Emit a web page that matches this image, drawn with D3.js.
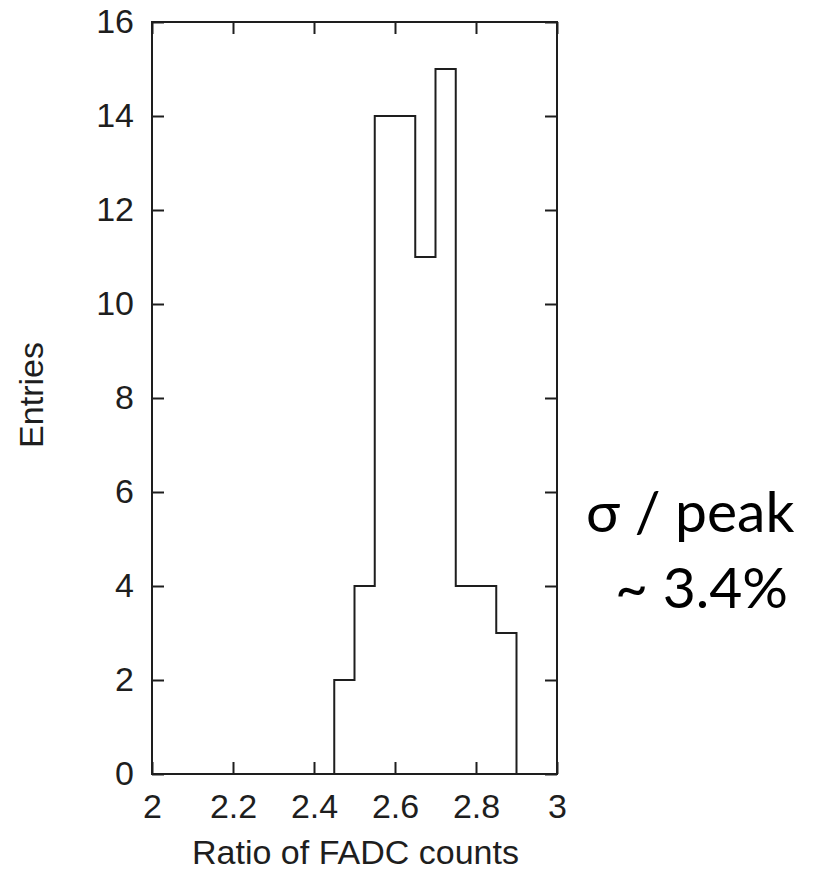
<!DOCTYPE html>
<html>
<head>
<meta charset="utf-8">
<script src="https://cdn.jsdelivr.net/npm/d3@7"></script>
<style>
  html, body { margin: 0; padding: 0; background: #fff; }
  svg { display: block; }
</style>
</head>
<body>
<script>
// Histogram of FADC count ratios, 0.05-wide bins from 2.0 to 3.0
const binEdges = [2.00, 2.05, 2.10, 2.15, 2.20, 2.25, 2.30, 2.35, 2.40, 2.45,
                  2.50, 2.55, 2.60, 2.65, 2.70, 2.75, 2.80, 2.85, 2.90, 2.95, 3.00];
const binCounts = [0, 0, 0, 0, 0, 0, 0, 0, 0, 2,
                   4, 14, 14, 11, 15, 4, 4, 3, 0, 0];
const xTicks = [2, 2.2, 2.4, 2.6, 2.8, 3];
const yTicks = [0, 2, 4, 6, 8, 10, 12, 14, 16];
const xTitle = "Ratio of FADC counts";
const yTitle = "Entries";
const noteLines = ["σ / peak", "~ 3.4%"];

const W = 819, H = 872;
const m = { left: 152, right: 557, top: 22, bottom: 774 };
const ink = "#1e1e1e";

const svg = d3.select("body").append("svg")
  .attr("width", W).attr("height", H);

const x = d3.scaleLinear().domain([2, 3]).range([m.left, m.right]);
const y = d3.scaleLinear().domain([0, 16]).range([m.bottom, m.top]);

const tick = 12;
const font = "'Liberation Sans', Arial, sans-serif";
const fontSize = "34px";

function styleAxis(g, showLabels) {
  g.select(".domain").remove();
  g.selectAll(".tick line").attr("stroke", ink).attr("stroke-width", 2);
  g.selectAll(".tick text")
    .attr("fill", showLabels ? ink : "none")
    .style("font-family", font)
    .style("font-size", fontSize);
}

// bottom and top x axes (ticks point inward)
svg.append("g").attr("transform", `translate(0,${m.bottom})`)
  .call(d3.axisBottom(x).tickValues(xTicks).tickFormat(d3.format("~g"))
    .tickSizeInner(-tick).tickSizeOuter(0).tickPadding(tick + 8))
  .call(g => styleAxis(g, true));
svg.append("g").attr("transform", `translate(0,${m.top})`)
  .call(d3.axisTop(x).tickValues(xTicks).tickFormat("")
    .tickSizeInner(-tick).tickSizeOuter(0))
  .call(g => styleAxis(g, false));

// left and right y axes
svg.append("g").attr("transform", `translate(${m.left},0)`)
  .call(d3.axisLeft(y).tickValues(yTicks).tickFormat(d3.format("d"))
    .tickSizeInner(-tick).tickSizeOuter(0).tickPadding(tick + 6))
  .call(g => styleAxis(g, true));
svg.append("g").attr("transform", `translate(${m.right},0)`)
  .call(d3.axisRight(y).tickValues(yTicks).tickFormat("")
    .tickSizeInner(-tick).tickSizeOuter(0))
  .call(g => styleAxis(g, false));

// plot frame
svg.append("rect")
  .attr("x", x(2)).attr("y", y(16))
  .attr("width", x(3) - x(2)).attr("height", y(0) - y(16))
  .attr("fill", "none").attr("stroke", ink).attr("stroke-width", 2);

// histogram outline as a step path
const pts = [[binEdges[0], 0]];
binCounts.forEach((c, i) => {
  pts.push([binEdges[i], c]);
  pts.push([binEdges[i + 1], c]);
});
pts.push([binEdges[binEdges.length - 1], 0]);
svg.append("path")
  .datum(pts)
  .attr("fill", "none")
  .attr("stroke", ink)
  .attr("stroke-width", 2)
  .attr("d", d3.line().x(d => x(d[0])).y(d => y(d[1])));

// axis titles
svg.append("text")
  .attr("x", (m.left + m.right) / 2 + 1).attr("y", 864)
  .attr("text-anchor", "middle")
  .attr("fill", ink)
  .style("font-family", font).style("font-size", fontSize)
  .text(xTitle);

svg.append("text")
  .attr("transform", `translate(43,395) rotate(-90)`)
  .attr("text-anchor", "middle")
  .attr("fill", ink)
  .style("font-family", font).style("font-size", fontSize)
  .text(yTitle);

// resolution note
const note = svg.append("text")
  .attr("fill", "#000")
  .style("font-family", "Lato, 'Open Sans', sans-serif")
  .style("font-size", "57px");
note.append("tspan").attr("x", 586).attr("y", 532).text(noteLines[0]);
note.append("tspan").attr("x", 615).attr("y", 608).text(noteLines[1]);
</script>
</body>
</html>
